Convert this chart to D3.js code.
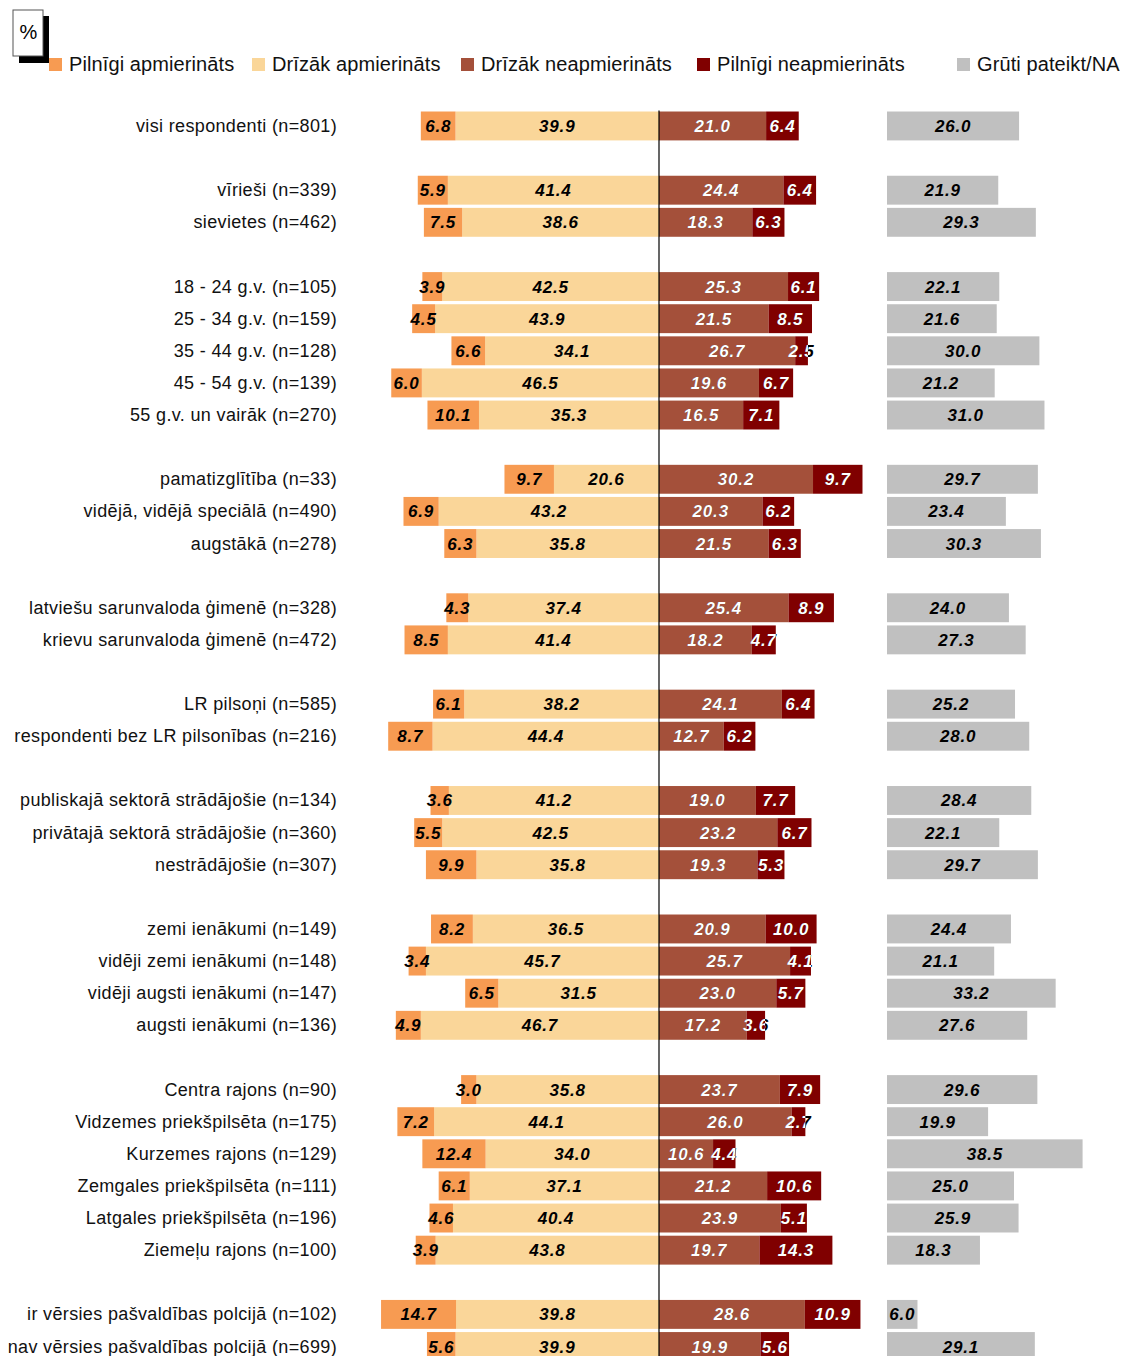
<!DOCTYPE html>
<html>
<head>
<meta charset="utf-8">
<script src="https://cdn.jsdelivr.net/npm/d3@7"></script>
<style>
  html, body { margin: 0; padding: 0; background: #fff; }
  svg { display: block; }
</style>
</head>
<body>
<svg id="chart" width="1127" height="1356"></svg>
<script>
// Respondent groups; groupSizes says how many consecutive categories form one block
const categories = [
  "visi respondenti (n=801)",
  "vīrieši (n=339)", "sievietes (n=462)",
  "18 - 24 g.v. (n=105)", "25 - 34 g.v. (n=159)", "35 - 44 g.v. (n=128)", "45 - 54 g.v. (n=139)", "55 g.v. un vairāk (n=270)",
  "pamatizglītība (n=33)", "vidējā, vidējā speciālā (n=490)", "augstākā (n=278)",
  "latviešu sarunvaloda ģimenē (n=328)", "krievu sarunvaloda ģimenē (n=472)",
  "LR pilsoņi (n=585)", "respondenti bez LR pilsonības (n=216)",
  "publiskajā sektorā strādājošie (n=134)", "privātajā sektorā strādājošie (n=360)", "nestrādājošie (n=307)",
  "zemi ienākumi (n=149)", "vidēji zemi ienākumi (n=148)", "vidēji augsti ienākumi (n=147)", "augsti ienākumi (n=136)",
  "Centra rajons (n=90)", "Vidzemes priekšpilsēta (n=175)", "Kurzemes rajons (n=129)", "Zemgales priekšpilsēta (n=111)", "Latgales priekšpilsēta (n=196)", "Ziemeļu rajons (n=100)",
  "ir vērsies pašvaldības polcijā (n=102)", "nav vērsies pašvaldības polcijā (n=699)"
];
const groupSizes = [1, 2, 5, 3, 2, 2, 3, 4, 6, 2];

// Shares, %
const pilnigiApmierinats = [6.8, 5.9, 7.5, 3.9, 4.5, 6.6, 6.0, 10.1, 9.7, 6.9, 6.3, 4.3, 8.5, 6.1, 8.7, 3.6, 5.5, 9.9, 8.2, 3.4, 6.5, 4.9, 3.0, 7.2, 12.4, 6.1, 4.6, 3.9, 14.7, 5.6];
const drizakApmierinats  = [39.9, 41.4, 38.6, 42.5, 43.9, 34.1, 46.5, 35.3, 20.6, 43.2, 35.8, 37.4, 41.4, 38.2, 44.4, 41.2, 42.5, 35.8, 36.5, 45.7, 31.5, 46.7, 35.8, 44.1, 34.0, 37.1, 40.4, 43.8, 39.8, 39.9];
const drizakNeapmierinats = [21.0, 24.4, 18.3, 25.3, 21.5, 26.7, 19.6, 16.5, 30.2, 20.3, 21.5, 25.4, 18.2, 24.1, 12.7, 19.0, 23.2, 19.3, 20.9, 25.7, 23.0, 17.2, 23.7, 26.0, 10.6, 21.2, 23.9, 19.7, 28.6, 19.9];
const pilnigiNeapmierinats = [6.4, 6.4, 6.3, 6.1, 8.5, 2.5, 6.7, 7.1, 9.7, 6.2, 6.3, 8.9, 4.7, 6.4, 6.2, 7.7, 6.7, 5.3, 10.0, 4.1, 5.7, 3.6, 7.9, 2.7, 4.4, 10.6, 5.1, 14.3, 10.9, 5.6];
const grutiPateikt = [26.0, 21.9, 29.3, 22.1, 21.6, 30.0, 21.2, 31.0, 29.7, 23.4, 30.3, 24.0, 27.3, 25.2, 28.0, 28.4, 22.1, 29.7, 24.4, 21.1, 33.2, 27.6, 29.6, 19.9, 38.5, 25.0, 25.9, 18.3, 6.0, 29.1];

const seriesNames = ["Pilnīgi apmierināts", "Drīzāk apmierināts", "Drīzāk neapmierināts", "Pilnīgi neapmierināts", "Grūti pateikt/NA"];
const seriesColors = ["#F79B52", "#FAD699", "#A4503A", "#800000", "#C0C0C0"];

const W = 1127, H = 1356;
const svg = d3.select("#chart");
const baseFont = "'Liberation Sans', Arial, sans-serif";

// Assign each category a row slot, leaving one empty slot between blocks
const slots = [];
let slot = 0;
groupSizes.forEach(n => {
  for (let k = 0; k < n; k++) slots.push(slot++);
  slot++;
});
const nSlots = slot - 1;

const rows = categories.map((c, i) => ({
  name: c, slot: slots[i],
  pa: pilnigiApmierinats[i], da: drizakApmierinats[i],
  dn: drizakNeapmierinats[i], pn: pilnigiNeapmierinats[i], gp: grutiPateikt[i]
}));

const step = 32.12;
const y = d3.scaleBand().domain(d3.range(nSlots))
  .range([109.9, 109.9 + nSlots * step]).paddingInner(0.1).paddingOuter(0.05);
const x = d3.scaleLinear().domain([-60, 60]).range([659 - 306, 659 + 306]);
const xg = d3.scaleLinear().domain([0, 50]).range([887, 887 + 254]);

// Segment list: both sides stack outward from the centre line
const segs = [];
rows.forEach((r, i) => {
  segs.push({ i, r, s: 1, x0: x(-r.da), x1: x(0), v: r.da, dark: false });
  segs.push({ i, r, s: 0, x0: x(-r.da - r.pa), x1: x(-r.da), v: r.pa, dark: false });
  segs.push({ i, r, s: 2, x0: x(0), x1: x(r.dn), v: r.dn, dark: true });
  segs.push({ i, r, s: 3, x0: x(r.dn), x1: x(r.dn + r.pn), v: r.pn, dark: true });
  segs.push({ i, r, s: 4, x0: xg(0), x1: xg(r.gp), v: r.gp, dark: false });
});

svg.append("g").selectAll("rect").data(segs).join("rect")
  .attr("x", d => d.x0).attr("width", d => d.x1 - d.x0)
  .attr("y", d => y(d.r.slot)).attr("height", y.bandwidth())
  .attr("fill", d => seriesColors[d.s]);

// Centre axis line
svg.append("line")
  .attr("x1", x(0)).attr("x2", x(0))
  .attr("y1", y(0) - 1).attr("y2", H)
  .attr("stroke", "#000").attr("stroke-width", 1.2);

// Clip paths for right-hand (dark) stacks so labels turn white only over the bar
const defs = svg.append("defs");
rows.forEach((r, i) => {
  defs.append("clipPath").attr("id", "clipR" + i).append("rect")
    .attr("x", x(0)).attr("width", x(r.dn + r.pn) - x(0))
    .attr("y", y(r.slot)).attr("height", y.bandwidth());
});

const fmt = d3.format(".1f");
const gVals = svg.append("g")
  .attr("font-family", baseFont).attr("font-size", 17)
  .attr("font-weight", "bold").attr("font-style", "italic")
  .attr("letter-spacing", "0.8px").attr("text-anchor", "middle");

gVals.selectAll("text.v").data(segs).join("text")
  .attr("class", "v")
  .attr("x", d => (d.x0 + d.x1) / 2)
  .attr("y", d => y(d.r.slot) + y.bandwidth() / 2 + 6)
  .attr("fill", "#000")
  .text(d => fmt(d.v));

gVals.selectAll("text.w").data(segs.filter(d => d.dark)).join("text")
  .attr("class", "w")
  .attr("clip-path", d => `url(#clipR${d.i})`)
  .attr("x", d => (d.x0 + d.x1) / 2)
  .attr("y", d => y(d.r.slot) + y.bandwidth() / 2 + 6)
  .attr("fill", "#fff")
  .text(d => fmt(d.v));

// Category labels
svg.append("g")
  .attr("font-family", baseFont).attr("font-size", 18)
  .attr("letter-spacing", "0.35px").attr("text-anchor", "end").attr("fill", "#111")
  .selectAll("text").data(rows).join("text")
  .attr("x", 337)
  .attr("y", d => y(d.slot) + y.bandwidth() / 2 + 6)
  .text(d => d.name);

// "%" badge with drop shadow
svg.append("rect").attr("x", 19).attr("y", 16).attr("width", 30).attr("height", 47).attr("fill", "#000");
svg.append("rect").attr("x", 13).attr("y", 10).attr("width", 30).attr("height", 46)
  .attr("fill", "#fff").attr("stroke", "#555").attr("stroke-width", 1);
svg.append("text").attr("x", 28.5).attr("y", 39).attr("text-anchor", "middle")
  .attr("font-family", baseFont).attr("font-size", 20).attr("fill", "#000").text("%");

// Legend
const legendX = [49, 252, 461, 697, 957];
const lg = svg.append("g").selectAll("g").data(seriesNames).join("g")
  .attr("transform", (d, i) => `translate(${legendX[i]},0)`);
lg.append("rect").attr("x", 0).attr("y", 58).attr("width", 13).attr("height", 13)
  .attr("fill", (d, i) => seriesColors[i]);
lg.append("text").attr("x", 20).attr("y", 71)
  .attr("font-family", baseFont).attr("font-size", 20).attr("letter-spacing", "0.1px").attr("fill", "#111")
  .text(d => d);
</script>
</body>
</html>
